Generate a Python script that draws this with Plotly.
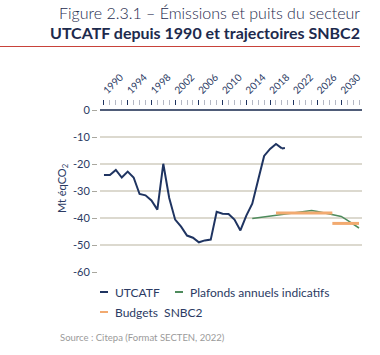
import plotly.graph_objects as go

# ---------------- data ----------------
years_hist = list(range(1990, 2022))
utcatf = [-24.1, -24.1, -22.2, -25.0, -22.8, -25.0, -31.1, -31.6, -33.5, -36.9,
          -19.9, -32.6, -40.6, -43.2, -46.5, -47.3, -49.0, -48.3, -48.0, -37.7,
          -38.4, -38.5, -40.6, -44.6, -39.1, -34.7, -25.8, -17.0, -14.4, -12.6,
          -14.2, -14.0]
provisional_from = 2020  # last segment drawn dotted

years_plaf = list(range(2015, 2034))
plafonds = [-40.2, -39.9, -39.6, -39.3, -38.9, -38.6, -38.3, -38.0, -37.7, -37.5,
            -37.2, -37.6, -38.0, -38.5, -38.9, -39.4, -40.8, -42.2, -43.7]

budget_start = [2019, 2028.5]
budget_end = [2028.5, 2033]
budget_value = [-38.1, -42.0]

y_ticks = [0, -10, -20, -30, -40, -50, -60]
x_tick_years = list(range(1990, 2031, 4))

# ---------------- styles ----------------
NAVY = "#1f3461"
GREEN = "#4e8b5c"
ORANGE = "#f2aa70"
TEXT = "#2b3a63"
GRID = "#dcd9cf"
FONT = "Lato"

W, H = 380, 355
ML, MR, MT, MB = 97, 18, 106, 83
PW, PH = W - ML - MR, H - MT - MB


def px(xp):
    return (xp - ML) / PW


def py(yp):
    return (H - MB - yp) / PH


fig = go.Figure()

cut = years_hist.index(provisional_from)
fig.add_trace(go.Scatter(x=years_hist[:cut + 1], y=utcatf[:cut + 1], mode="lines",
                         line=dict(color=NAVY, width=2), name="UTCATF", showlegend=False))
fig.add_trace(go.Scatter(x=years_hist[cut:], y=utcatf[cut:], mode="lines",
                         line=dict(color=NAVY, width=2, dash="dot"), showlegend=False))
fig.add_trace(go.Scatter(x=years_plaf, y=plafonds, mode="lines",
                         line=dict(color=GREEN, width=1.5),
                         name="Plafonds annuels indicatifs", showlegend=False))
for s, e, v in zip(budget_start, budget_end, budget_value):
    fig.add_trace(go.Scatter(x=[s, e], y=[v, v], mode="lines",
                             line=dict(color=ORANGE, width=3),
                             name="Budgets SNBC2", showlegend=False))

shapes = []
annotations = []

# legend (manual)
legend_items = [
    ("UTCATF", NAVY, 100, 292),
    ("Plafonds annuels indicatifs", GREEN, 175, 292),
    ("Budgets&nbsp; SNBC2", ORANGE, 100, 312),
]
for label, col, x0, yy in legend_items:
    shapes.append(dict(type="line", xref="paper", yref="paper",
                       x0=px(x0), x1=px(x0 + 8), y0=py(yy), y1=py(yy),
                       line=dict(color=col, width=2)))
    annotations.append(dict(xref="paper", yref="paper", x=px(x0 + 13), y=py(yy),
                            xanchor="left", yanchor="middle", showarrow=False,
                            text=label, font=dict(family=FONT, size=12, color=TEXT)))

# title
annotations.append(dict(xref="paper", yref="paper", x=px(362), y=py(13),
                        xanchor="right", yanchor="middle", showarrow=False,
                        text="Figure 2.3.1 – Émissions et puits du secteur",
                        font=dict(family=FONT, size=16, color="#1d2a4d", weight=300)))
annotations.append(dict(xref="paper", yref="paper", x=px(362), y=py(32),
                        xanchor="right", yanchor="middle", showarrow=False,
                        text="<b>UTCATF depuis 1990 et trajectoires SNBC2</b>",
                        font=dict(family=FONT, size=16, color="#1d2a4d")))
shapes.append(dict(type="line", xref="paper", yref="paper",
                   x0=px(0), x1=px(360), y0=py(46.5), y1=py(46.5),
                   line=dict(color="#c8423a", width=1)))

# y axis title
annotations.append(dict(xref="paper", yref="paper", x=px(62), y=py(188),
                        xanchor="center", yanchor="middle", showarrow=False,
                        textangle=-90, text="Mt éqCO<sub>2</sub>",
                        font=dict(family=FONT, size=11, color=TEXT)))

# source
annotations.append(dict(xref="paper", yref="paper", x=px(58), y=py(337),
                        xanchor="left", yanchor="middle", showarrow=False,
                        text="Source : Citepa (Format SECTEN, 2022)",
                        font=dict(family=FONT, size=9.5, color="#9a9a9a")))

fig.update_layout(
    width=W, height=H,
    margin=dict(l=ML, r=MR, t=MT, b=MB, pad=0, autoexpand=False),
    paper_bgcolor="white", plot_bgcolor="white",
    showlegend=False,
    shapes=shapes, annotations=annotations,
    xaxis=dict(
        domain=[3 / PW, 1], range=[1989.33, 2033.5], side="top",
        automargin=False,
        showgrid=False, zeroline=False, showline=False,
        tickmode="array", tickvals=x_tick_years, ticktext=[str(v) for v in x_tick_years],
        tickangle=-45, ticks="outside", ticklen=5, tickwidth=1, tickcolor=NAVY,
        tickfont=dict(family=FONT, size=10, color=TEXT),
        minor=dict(dtick=1, tick0=1990, ticks="outside", ticklen=5,
                   tickcolor="#b4b8c4", tickwidth=1, showgrid=False),
    ),
    yaxis=dict(
        range=[-60, 1.5], anchor="free", position=0,
        automargin=False,
        tickmode="array", tickvals=y_ticks, ticktext=[str(v) for v in y_ticks],
        showgrid=True, gridcolor=GRID, gridwidth=1.5,
        zeroline=True, zerolinecolor="#4f5c78", zerolinewidth=2,
        ticks="outside", ticklen=5, tickcolor="#a9a79f", tickwidth=1,
        tickfont=dict(family=FONT, size=11, color=TEXT),
        showline=False,
    ),
)

fig.write_html("out.html",
               config={"displayModeBar": False},
               post_script="document.body.style.margin='0';document.body.style.padding='0';")
